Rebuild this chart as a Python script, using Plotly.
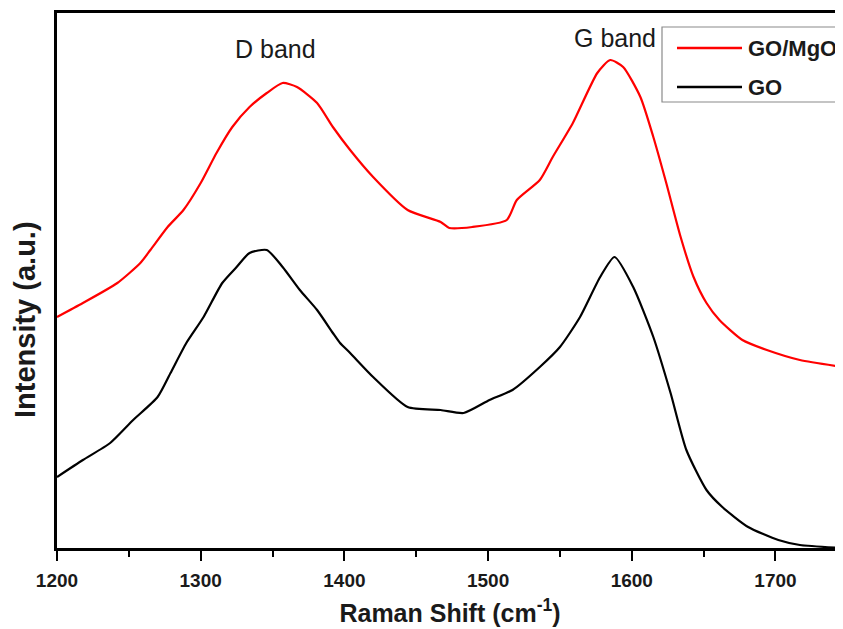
import plotly.graph_objects as go

# GO/MgO (red) spectrum
go_mgo_x = [1200, 1218, 1242, 1258, 1265, 1277, 1288, 1300, 1311, 1322, 1334, 1346, 1357, 1367,
            1381, 1392, 1404, 1420, 1444, 1467, 1473, 1489, 1513, 1520, 1536, 1545, 1559, 1576,
            1585, 1594, 1606, 1615, 1624, 1634, 1643, 1652, 1661, 1677, 1694, 1717, 1747]
go_mgo_y = [231, 245, 265, 285, 298, 321, 338, 365, 395, 421, 441, 455, 465, 461,
            445, 421, 398, 371, 338, 326, 320, 321, 328, 348, 368, 391, 425, 475,
            488, 481, 451, 411, 365, 311, 271, 245, 228, 208, 198, 188, 181]

# GO (black) spectrum
go_x = [1200, 1218, 1237, 1253, 1270, 1279, 1290, 1302, 1315, 1325, 1334, 1346, 1357, 1369,
        1381, 1392, 1397, 1404, 1420, 1444, 1467, 1483, 1501, 1517, 1536, 1550, 1564, 1578,
        1588, 1601, 1615, 1627, 1638, 1652, 1663, 1681, 1702, 1717, 1747]
go_y = [71, 88, 105, 128, 151, 175, 205, 231, 265, 281, 295, 298, 281, 258,
        238, 215, 205, 195, 171, 141, 138, 135, 148, 158, 181, 201, 231, 271,
        291, 261, 211, 155, 98, 58, 41, 21, 8, 3, 0]

series_names = ["GO/MgO", "GO"]
series_colors = ["#ff0000", "#000000"]
x_ticks = [1200, 1300, 1400, 1500, 1600, 1700]
band_labels = ["D band", "G band"]
band_pos = [(1352, 499), (1588, 510)]

FONT = "Liberation Sans, Arial, sans-serif"
TXT = "#1a1a1a"

# plot-area geometry in page pixels (page body has an 8px margin)
PL, PT, PB, PW = 57, 13, 548, 786
def px(xp):
    return (xp - PL) / PW
def py(yp):
    return (PB - yp) / (PB - PT)

fig = go.Figure()
for xs, ys, nm, col in zip([go_mgo_x, go_x], [go_mgo_y, go_y], series_names, series_colors):
    fig.add_trace(go.Scatter(x=xs, y=ys, mode="lines", name=nm, showlegend=False,
                             line=dict(color=col, width=2.2, shape="spline", smoothing=0.6)))

for txt, (bx, by) in zip(band_labels, band_pos):
    fig.add_annotation(x=bx, y=by, text=txt, showarrow=False,
                       font=dict(family=FONT, size=25, color=TXT))

# legend box (drawn to match the reference's long line samples)
fig.add_shape(type="rect", xref="paper", yref="paper",
              x0=px(662), x1=px(900), y0=py(102), y1=py(27),
              line=dict(color="#8a8a8a", width=1.2), fillcolor="white", layer="above")
for i, (nm, col) in enumerate(zip(series_names, series_colors)):
    yy = 48 + i * 39
    fig.add_shape(type="line", xref="paper", yref="paper",
                  x0=px(677), x1=px(742), y0=py(yy), y1=py(yy),
                  line=dict(color=col, width=2.5), layer="above")
    fig.add_annotation(xref="paper", yref="paper", x=px(746), y=py(yy), text=nm,
                       xanchor="left", yanchor="middle", showarrow=False,
                       font=dict(family=FONT, size=22, color=TXT, weight="bold"))

# y axis title
fig.add_annotation(xref="paper", yref="paper", x=px(25), y=py(320), text="Intensity (a.u.)",
                   textangle=-90, showarrow=False, xanchor="center", yanchor="middle",
                   font=dict(family=FONT, size=29, color=TXT, weight="bold"))

fig.update_layout(
    width=835, height=619,
    margin=dict(l=49, r=0, t=5, b=79),
    paper_bgcolor="white", plot_bgcolor="white",
    showlegend=False,
    xaxis=dict(range=[1200, 1747], tickvals=x_ticks, ticks="outside", ticklen=10,
               tickwidth=2, tickcolor="black", automargin=False, ticklabelstandoff=3,
               minor=dict(dtick=50, ticks="outside", ticklen=6, tickwidth=2, tickcolor="black"),
               showline=True, linecolor="black", linewidth=2.5, mirror=True,
               showgrid=False, zeroline=False,
               tickfont=dict(family=FONT, size=19, color=TXT, weight="bold"),
               title=dict(text="Raman Shift (cm<sup>-1</sup>)", standoff=20,
                          font=dict(family=FONT, size=25, color=TXT, weight="bold"))),
    yaxis=dict(range=[0, 535], showticklabels=False, ticks="", automargin=False,
               showline=True, linecolor="black", linewidth=2.5,
               showgrid=False, zeroline=False),
)

fig.write_html("out.html")
